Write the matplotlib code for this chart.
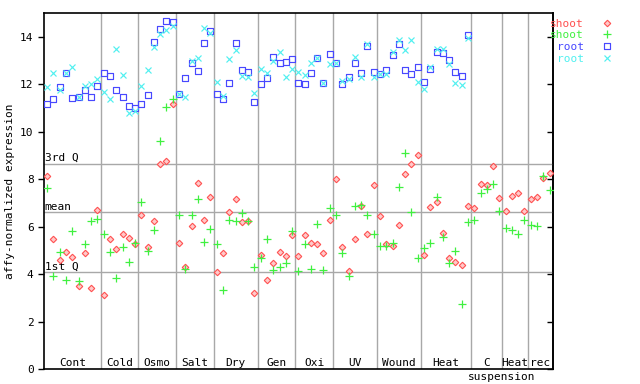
import numpy as np
import matplotlib
matplotlib.use("Agg")
import matplotlib.pyplot as plt
from matplotlib.path import Path

# experiment groups and number of samples in each
groups = ["Cont", "Cold", "Osmo", "Salt", "Dry", "Gen", "Oxi", "UV", "Wound", "Heat", "C", "Heat", "rec"]
group_sizes = [9, 6, 6, 6, 7, 6, 6, 7, 7, 8, 5, 4, 4]

shoot_a = [8.13, 5.47, 4.62, 4.96, 4.75, 3.53, 4.88, 3.44, 6.73,
           3.11, 5.47, 5.05, 5.68, 5.55, 5.30,
           6.52, 5.17, 6.23, 8.67, 8.76, 11.19,
           5.34, 4.33, 6.02, 7.83, 6.27, 7.24,
           4.12, 4.88, 6.61, 7.16, 6.19, 6.23, 3.23,
           4.83, 3.78, 4.46, 4.96, 4.79, 5.64,
           4.79, 5.64, 5.34, 5.30, 4.88, 6.31,
           8.00, 5.17, 4.16, 5.51, 6.86, 5.72, 7.75,
           6.44, 5.30, 5.21, 6.10, 8.21, 8.67, 9.05,
           4.83, 6.82, 7.03, 5.76, 4.71, 4.54, 4.41, 6.86,
           6.78, 7.79, 7.75, 8.55, 7.20,
           6.65, 7.32, 7.41, 6.69,
           7.16, 7.28, 8.04, 8.29]

shoot_b = [7.63, 3.95, 4.96, 3.78, 5.81, 3.74, 5.30, 6.23, 6.35,
           5.68, 4.96, 3.86, 5.17, 4.54, 5.34,
           7.03, 5.00, 5.89, 9.60, 11.05, 11.40,
           6.48, 4.24, 6.48, 7.16, 5.38, 5.93,
           5.30, 3.36, 6.27, 6.23, 6.57, 6.23, 4.29,
           4.67, 5.47, 4.20, 4.33, 4.46, 5.81,
           4.16, 5.26, 4.24, 6.14, 4.20, 6.78,
           6.52, 4.92, 3.95, 6.86, 6.94, 6.48, 5.72,
           5.21, 5.21, 5.34, 7.70, 9.10, 6.61, 4.71,
           5.13, 5.34, 7.28, 5.59, 4.46, 5.00, 2.77, 6.19,
           6.27, 7.41, 7.58, 7.79, 6.65,
           5.97, 5.85, 5.68, 6.27,
           6.10, 6.02, 8.13, 7.54]

nan = float("nan")
root_a = [11.18, 11.39, 11.90, 12.50, 11.43, 11.47, 11.77, 11.47, 11.94,
          12.49, 12.36, 11.77, 11.47, 11.09, 10.99,
          11.18, 11.56, 13.79, 14.34, 14.68, 14.65,
          11.60, 12.28, 12.91, 12.57, 13.75, 14.26,
          11.60, 11.39, 12.06, 13.75, 12.61, 12.53, 11.26,
          12.02, 12.28, 13.16, 12.91, 12.95, 13.08,
          12.06, 12.02, 12.49, 13.12, 12.06, 13.29,
          12.91, 12.02, 12.32, 12.91, 12.49, 13.64, 12.53,
          12.44, 12.61, 13.25, 13.71, 12.61, 12.44, 12.74,
          12.11, 12.66, 13.37, 13.33, 13.03, 12.53, 12.36, 14.09] + [nan] * 13

root_b = [11.90, 12.49, 11.78, 12.50, 12.74, 11.47, 11.95, 12.02, 12.23,
          11.68, 11.39, 13.50, 12.40, 10.80, 10.90,
          11.94, 12.61, 13.57, 14.12, 14.30, 14.46,
          11.60, 11.47, 12.99, 13.12, 14.39, 14.17,
          12.10, 11.52, 13.08, 13.46, 12.36, 12.32, 11.64,
          12.66, 12.49, 12.99, 13.37, 12.32, 12.66,
          12.53, 12.40, 12.91, 13.12, 12.06, 12.87,
          12.91, 12.15, 12.23, 13.16, 12.32, 13.71, 12.32,
          12.44, 12.44, 13.37, 13.88, 13.46, 13.88, 12.11,
          11.81, 12.74, 13.50, 13.50, 12.87, 12.06, 11.98, 13.96] + [nan] * 13

quartiles = {"3rd Q": 8.67, "mean": 6.61, "1st Q": 4.08}

plt.rcParams["font.family"] = "DejaVu Sans Mono"
plt.rcParams["font.size"] = 8

x = np.arange(len(shoot_a)) + 0.5
bounds = np.cumsum(group_sizes)

# square with a dot in the middle
sq_dot = Path([(-1, -1), (1, -1), (1, 1), (-1, 1), (-1, -1),
               (-0.12, -0.12), (0.12, -0.12), (0.12, 0.12), (-0.12, 0.12), (-0.12, -0.12)],
              [Path.MOVETO, Path.LINETO, Path.LINETO, Path.LINETO, Path.CLOSEPOLY,
               Path.MOVETO, Path.LINETO, Path.LINETO, Path.LINETO, Path.CLOSEPOLY])

fig = plt.figure(figsize=(6.4, 3.84), dpi=100)
ax = fig.add_axes([0.06875, 0.0383, 0.7949, 0.9271])

for b in bounds[:-1]:
    ax.axvline(b, color="#a8a8a8", lw=1.0, zorder=1)
for name, val in quartiles.items():
    ax.axhline(val, color="#a8a8a8", lw=1.0, zorder=1)
    ax.text(0.1, val + 0.02, name, ha="left", va="bottom", fontsize=8, zorder=2)

ax.plot(x, shoot_a, ls="none", marker="D", ms=3.3, mec="#ff5050", mfc="#ffcaca", mew=0.8,
        label="shoot", zorder=3)
ax.plot(x, shoot_b, ls="none", marker="+", ms=6.0, mec="#40f040", mew=0.9,
        label="shoot", zorder=3)
ax.plot(x, root_a, ls="none", marker=sq_dot, ms=5.0, mec="#4848ff", mfc="none", mew=0.85,
        label="root", zorder=3)
ax.plot(x, root_b, ls="none", marker="x", ms=4.5, mec="#50f0f0", mew=0.85,
        label="root", zorder=3)

starts = np.concatenate([[0], bounds[:-1]])
for name, s, n in zip(groups, starts, group_sizes):
    ax.text(s + n / 2, 0.28, name, ha="center", va="center", fontsize=8)
ax.text(72.9, -0.32, "suspension", ha="center", va="center", fontsize=8, clip_on=False)

ax.set_xlim(0, bounds[-1])
ax.set_ylim(0, 15)
ax.set_xticks([])
ax.set_yticks(range(0, 15, 2))
ax.tick_params(axis="y", direction="out", length=4, width=1, labelsize=8)
right = ax.secondary_yaxis("right")
right.set_yticks(range(0, 15, 2))
right.tick_params(direction="in", length=4, width=1, labelright=False)
for sp in ax.spines.values():
    sp.set_linewidth(1.2)
right.spines["right"].set_linewidth(1.2)
ax.set_ylabel("affy-normalized expression", fontsize=8, labelpad=4)

leg = ax.legend(loc="upper left", bbox_to_anchor=(0.995, 0.985), frameon=False,
                markerfirst=False, labelcolor="markeredgecolor", handlelength=1.0,
                handletextpad=1.6, labelspacing=0.15, borderaxespad=0, borderpad=0)

fig.savefig("out.png", dpi=100)
